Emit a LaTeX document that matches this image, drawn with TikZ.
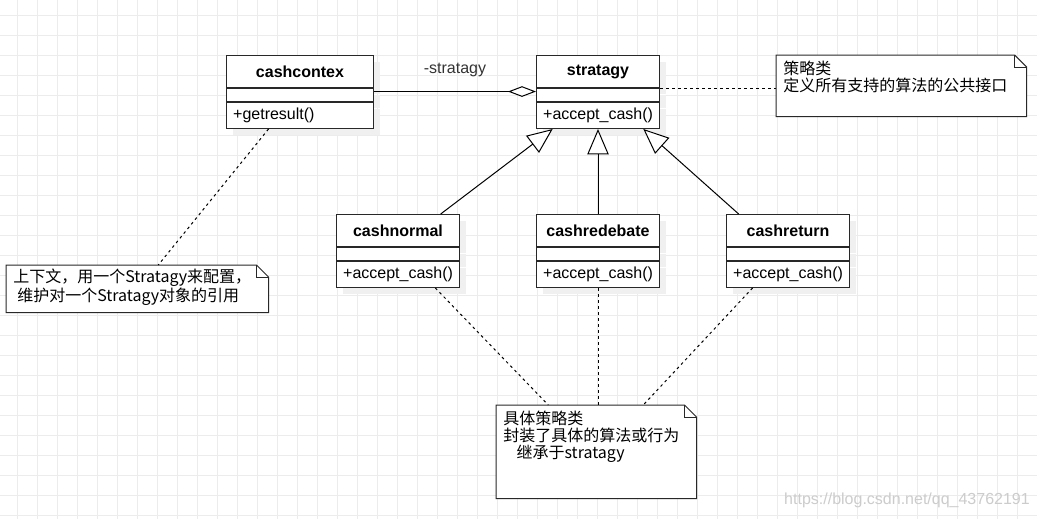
\documentclass[tikz,border=0pt]{standalone}
\usepackage{fontspec}
\setmainfont{Liberation Sans}
\newfontfamily\cjk{Noto Sans CJK SC}
\usetikzlibrary{arrows.meta, positioning, calc, shadows}

\definecolor{gridgray}{RGB}{236, 236, 236}
\definecolor{boxline}{RGB}{40, 40, 40}

\tikzset{
  boxshadow/.style={drop shadow={shadow xshift=4.5pt, shadow yshift=-4.5pt, fill=black!6, opacity=1}},
  ctitle/.style={draw=boxline, fill=white, line width=0.75pt, boxshadow, font=\fontsize{12}{14}\selectfont\bfseries, minimum height=24pt, inner sep=0pt, anchor=north west},
  cempty/.style={draw=boxline, fill=white, line width=0.75pt, boxshadow, minimum height=9.75pt, inner sep=0pt},
  cmethod/.style={draw=boxline, fill=white, line width=0.75pt, boxshadow, font=\fontsize{12}{14}\selectfont, minimum height=19.5pt, inner xsep=5pt, inner ysep=0pt, align=left},
  wide/.style={minimum width=110.25pt},
  mwide/.style={text width=100.25pt},
  narrow/.style={minimum width=92.25pt},
  mnarrow/.style={text width=82.25pt},
  notebox/.style={inner sep=0pt, anchor=north west},
  notetext/.style={font=\cjk\fontsize{12}{12.5}\selectfont, align=left, inner sep=0pt, anchor=north west},
  noteline/.style={draw=boxline, line width=0.75pt},
  dotline/.style={black, line width=0.75pt, dash pattern=on 2pt off 2.5pt},
  inherit/.style={-{Triangle[open, length=19pt, width=16pt, fill=white]}, line width=0.75pt, black},
}

\newcommand{\notefold}[1]{%
  \fill[white] (#1.north west) -- ([xshift=-9pt]#1.north east) -- ([yshift=-9pt]#1.north east) -- (#1.south east) -- (#1.south west) -- cycle;
  \draw[noteline] (#1.north west) -- ([xshift=-9pt]#1.north east) -- ([yshift=-9pt]#1.north east) -- (#1.south east) -- (#1.south west) -- cycle;
  \draw[noteline] ([xshift=-9pt]#1.north east) -- ([xshift=-9pt, yshift=-9pt]#1.north east) -- ([yshift=-9pt]#1.north east);
}

\begin{document}
\begin{tikzpicture}[x=0.75pt, y=-0.75pt]
  \useasboundingbox (0,0) rectangle (1037,519);
  \fill[white] (0,0) rectangle (1037,519);

  % background grid
  \foreach \gx in {17,37,...,1037} \draw[gridgray, line width=0.75pt] (\gx,0) -- (\gx,519);
  \foreach \gy in {15,35,...,519} \draw[gridgray, line width=0.75pt] (0,\gy) -- (1037,\gy);

  % watermark
  \node[font=\fontsize{12}{12}\selectfont, text=black!20] (wm) at (907,500) {https://blog.csdn.net/qq\_43762191};

  % ===== Context =====
  \node[ctitle, wide] (ctx) at (226,55) {cashcontex};
  \node[cempty, wide, below=0pt of ctx] (ctx-e) {};
  \node[cmethod, mwide, below=0pt of ctx-e] (ctx-m) {+getresult()};

  % ===== Strategy =====
  \node[ctitle, narrow] (strat) at (536,55) {stratagy};
  \node[cempty, narrow, below=0pt of strat] (strat-e) {};
  \node[cmethod, mnarrow, below=0pt of strat-e] (strat-m) {+accept\_cash()};

  % ===== Concrete strategies =====
  \node[ctitle, narrow] (norm) at (336,214) {cashnormal};
  \node[cempty, narrow, below=0pt of norm] (norm-e) {};
  \node[cmethod, mnarrow, below=0pt of norm-e] (norm-m) {+accept\_cash()};

  \node[ctitle, narrow] (rede) at (536,214) {cashredebate};
  \node[cempty, narrow, below=0pt of rede] (rede-e) {};
  \node[cmethod, mnarrow, below=0pt of rede-e] (rede-m) {+accept\_cash()};

  \node[ctitle, narrow] (ret) at (726,214) {cashreturn};
  \node[cempty, narrow, below=0pt of ret] (ret-e) {};
  \node[cmethod, mnarrow, below=0pt of ret-e] (ret-m) {+accept\_cash()};

  % ===== Notes =====
  \node[notebox, minimum width=187.5pt, minimum height=45.75pt] (n1) at (776,55) {};
  \notefold{n1}
  \node[notetext] (n1t) at (783,61) {策略类\\定义所有支持的算法的公共接口};

  \node[notebox, minimum width=196.5pt, minimum height=35.25pt] (n2) at (6,265) {};
  \notefold{n2}
  \node[notetext] (n2t) at (13,269) {上下文，用一个Stratagy来配置，\\\hspace{3pt}维护对一个Stratagy对象的引用};

  \node[notebox, minimum width=150pt, minimum height=69.75pt] (n3) at (496,405) {};
  \notefold{n3}
  \node[notetext] (n3t) at (503,411) {具体策略类\\封装了具体的算法或行为\\\hspace{10pt}继承于stratagy};

  % aggregation
  \draw[-{Diamond[length=21pt, width=8pt, fill=white]}, line width=0.75pt, black]
    ([yshift=2.6pt]ctx-e.east) -- ([yshift=2.6pt]strat-e.west)
    node[midway, above=7pt, font=\fontsize{12}{14}\selectfont, text=black!80] {-stratagy};

  % inheritance
  \coordinate (tipL) at ([xshift=-34pt]strat-m.south);
  \coordinate (tipR) at ([xshift=34pt]strat-m.south);
  \draw[inherit] ([xshift=32pt]norm.north) -- (tipL);
  \draw[inherit] (rede.north) -- (strat-m.south);
  \draw[inherit] ([xshift=-37pt]ret.north) -- (tipR);

  % note links
  \draw[dotline] (strat-e.north east) -- (strat-e.north east -| n1.west);
  \draw[dotline] ([xshift=-23.6pt]ctx-m.south) -- ([xshift=15.75pt]n2.north);
  \draw[dotline] ([xshift=28pt]norm-m.south) -- ([xshift=-36pt]n3.north);
  \draw[dotline] (rede-m.south) -- (rede-m.south |- n3.north);
  \draw[dotline] ([xshift=-26.6pt]ret-m.south) -- ([xshift=35.25pt]n3.north);
\end{tikzpicture}
\end{document}
